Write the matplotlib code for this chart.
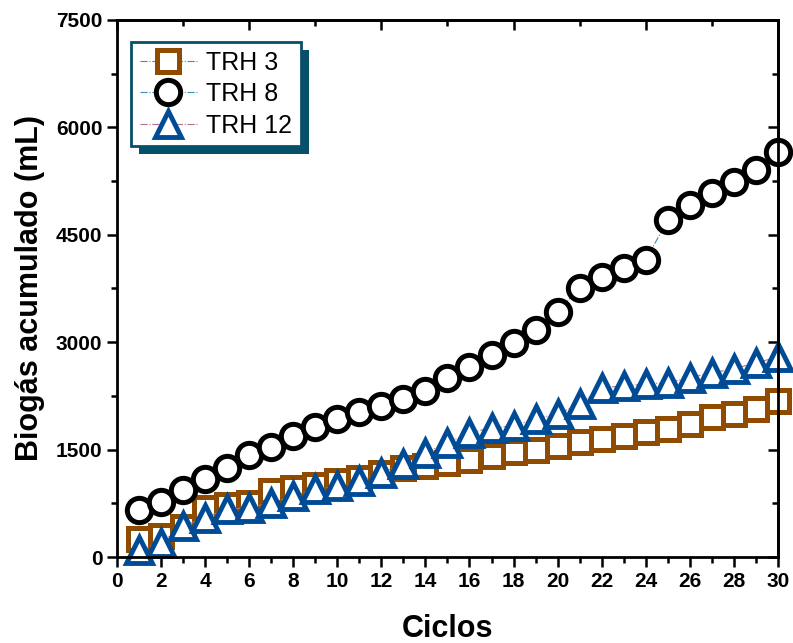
import numpy as np
import matplotlib
matplotlib.use("Agg")
import matplotlib.pyplot as plt
from matplotlib.patches import Rectangle

# data
ciclos = list(range(1, 31))
trh3 = [250, 290, 420, 680, 720, 760, 920, 960, 1000, 1060,
        1100, 1180, 1240, 1270, 1310, 1350, 1410, 1470, 1500, 1550,
        1600, 1650, 1690, 1740, 1790, 1860, 1950, 2000, 2070, 2180]
trh8 = [651, 773, 936, 1089, 1243, 1425, 1540, 1690, 1820, 1927,
        2025, 2109, 2207, 2320, 2500, 2658, 2821, 2989, 3170, 3426,
        3760, 3915, 4036, 4148, 4707, 4916, 5079, 5242, 5405, 5660]
trh12 = [100, 200, 433, 549, 670, 689, 758, 852, 950, 985,
         1061, 1177, 1299, 1457, 1596, 1732, 1806, 1830, 1932, 1997,
         2137, 2365, 2388, 2416, 2435, 2504, 2574, 2626, 2714, 2790]

labels = ["TRH 3", "TRH 8", "TRH 12"]
x_ticks = list(range(0, 31, 2))
y_ticks = [0, 1500, 3000, 4500, 6000, 7500]

BROWN = "#8f4b00"
BLUE = "#004b96"
TEAL = "#07506a"

fig = plt.figure(figsize=(7.93, 6.43), dpi=100)
ax = fig.add_axes([0.1475, 0.1337, 0.8335, 0.8353])

ax.plot(ciclos, trh3, ls="-.", lw=0.8, color="#3a8fb7", marker="s", ms=15.5,
        mfc="white", mec=BROWN, mew=3.6, label=labels[0], clip_on=False)
ax.plot(ciclos, trh8, ls="-.", lw=0.8, color="#3a8fb7", marker="o", ms=17.5,
        mfc="white", mec="black", mew=3.6, label=labels[1], clip_on=False)
ax.plot(ciclos, trh12, ls="-.", lw=0.8, color="#b07090", marker="^", ms=19,
        mfc="white", mec=BLUE, mew=3.5, label=labels[2], clip_on=False)

ax.set_xlim(0, 30)
ax.set_ylim(0, 7500)
ax.set_xticks(x_ticks)
ax.set_xticks(range(0, 31), minor=True)
ax.set_yticks(y_ticks)
ax.set_yticks(range(0, 7501, 750), minor=True)

tick_font = dict(family="Liberation Sans", weight="bold", size=15)
ax.set_xticklabels([str(t) for t in x_ticks], fontdict=tick_font)
ax.set_yticklabels([str(t) for t in y_ticks], fontdict=tick_font)

ax.tick_params(which="major", direction="out", length=7, width=1.8)
ax.tick_params(which="minor", direction="out", length=4, width=1.8)

for s in ax.spines.values():
    s.set_linewidth(2)

# top and right axes, inward ticks, no labels
top = ax.secondary_xaxis("top")
top.set_xticks(range(0, 31, 6))
top.set_xticks(range(0, 31, 3), minor=True)
top.set_xticklabels([])
top.tick_params(which="major", direction="in", length=7, width=1.8)
top.tick_params(which="minor", direction="in", length=4, width=1.8)
top.spines["top"].set_linewidth(2)

right = ax.secondary_yaxis("right")
right.set_yticks(y_ticks)
right.set_yticks(range(0, 7501, 750), minor=True)
right.set_yticklabels([])
right.tick_params(which="major", direction="in", length=7, width=1.8)
right.tick_params(which="minor", direction="in", length=4, width=1.8)
right.spines["right"].set_linewidth(2)

ax.set_xlabel("Ciclos", family="Liberation Sans", weight="bold", size=22, labelpad=17)
ax.set_ylabel("Biogás acumulado (mL)", family="Liberation Sans",
              weight="bold", size=22, labelpad=8)

leg = ax.legend(loc="upper left", bbox_to_anchor=(0.021, 0.959), borderaxespad=0,
                fancybox=False, prop=dict(family="Liberation Sans", size=18),
                handlelength=2.3, handletextpad=0.35, labelspacing=0.3,
                borderpad=0.35, framealpha=1, edgecolor=TEAL)
leg.get_frame().set_linewidth(2)
leg.set_zorder(10)

# offset dark shadow behind the legend box
fig.canvas.draw()
bb = leg.get_window_extent().transformed(ax.transAxes.inverted())
dx, dy = 8 / 661, 8 / 537
shadow = Rectangle((bb.x0 + dx, bb.y0 - dy), bb.width, bb.height,
                   transform=ax.transAxes, facecolor=TEAL, edgecolor="none",
                   zorder=9, clip_on=False)
ax.add_patch(shadow)

fig.savefig("out.png", dpi=100)
